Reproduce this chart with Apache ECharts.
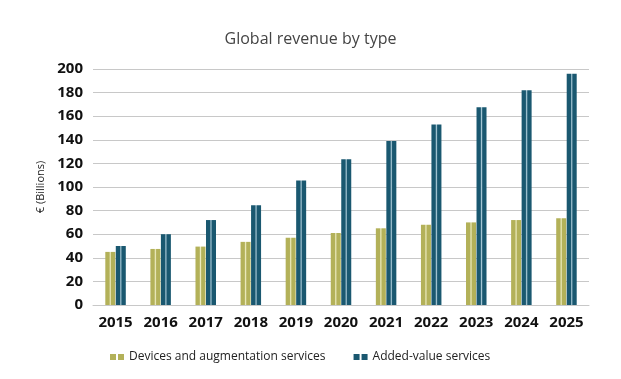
<!DOCTYPE html>
<html><head><meta charset="utf-8">
<script src="https://cdn.jsdelivr.net/npm/echarts@6/dist/echarts.min.js"></script>
<style>html,body{margin:0;padding:0;background:#fff}#c{width:621px;height:379px}</style>
</head><body><div id="c"></div>
<script>
const years = ['2015','2016','2017','2018','2019','2020','2021','2022','2023','2024','2025'];
const devices = [45, 47.5, 49.5, 53.5, 57, 61, 65, 68, 70, 72, 73.5];
const addedValue = [50, 60, 72, 84.5, 105.5, 123.5, 139, 153, 167.5, 182, 196];
const seriesNames = ['Devices and augmentation services', 'Added-value services'];

function stripe(dark, light) {
  return new echarts.graphic.LinearGradient(0, 0, 1, 0, [
    {offset: 0, color: dark}, {offset: 0.38, color: dark},
    {offset: 0.5, color: light}, {offset: 0.62, color: dark},
    {offset: 1, color: dark}
  ]);
}
const olive = '#b3b159', oliveL = '#ecebbf';
const teal = '#1a5870', tealL = '#a7c8d6';

const chart = echarts.init(document.getElementById('c'));
chart.setOption({
  animation: false,
  title: {text: 'Global revenue by type', left: 'center', top: 26,
    textStyle: {fontFamily: 'Open Sans', fontSize: 16, fontWeight: 'normal', color: '#444'}},
  grid: {left: 93, right: 32, top: 69, bottom: 74},
  legend: {
    bottom: 11, left: 105, itemGap: 28, itemWidth: 14, itemHeight: 6,
    icon: 'path://M0,0H6V6H0Z M8,0H14V6H8Z',
    textStyle: {fontFamily: 'Open Sans', fontSize: 12, color: '#222'},
    data: [
      {name: seriesNames[0], itemStyle: {color: olive}},
      {name: seriesNames[1], itemStyle: {color: teal}}
    ]
  },
  xAxis: {
    type: 'category', data: years,
    axisLine: {lineStyle: {color: '#c8c8c8'}},
    axisTick: {inside: true, length: 5, lineStyle: {color: '#bbb'}},
    axisLabel: {fontFamily: 'Open Sans', fontSize: 15, fontWeight: 'bold', color: '#111', margin: 10}
  },
  yAxis: {
    type: 'value', min: 0, max: 200, interval: 20,
    name: '€ (Billions)', nameLocation: 'middle', nameGap: 45, nameRotate: 90,
    nameTextStyle: {fontFamily: 'Open Sans', fontSize: 11, color: '#222'},
    axisLine: {show: false}, axisTick: {show: false},
    axisLabel: {fontFamily: 'Open Sans', fontSize: 15, fontWeight: 'bold', color: '#111', margin: 10},
    splitLine: {lineStyle: {color: '#c8c8c8'}}
  },
  series: [
    {name: seriesNames[0], type: 'bar', data: devices, barWidth: 10, barGap: '5%',
      itemStyle: {color: stripe(olive, oliveL)}},
    {name: seriesNames[1], type: 'bar', data: addedValue, barWidth: 10,
      itemStyle: {color: stripe(teal, tealL)}}
  ]
});
</script></body></html>
